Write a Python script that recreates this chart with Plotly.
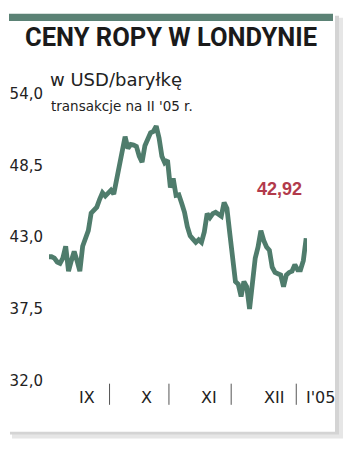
import pandas as pd
import plotly.graph_objects as go

# ---- data ----
dates = pd.bdate_range("2004-09-01", "2005-01-06")
prices = [
    41.5, 41.5, 41.4, 41.1, 41.0, 41.4, 42.3, 40.4, 41.2, 41.9,
    41.2, 40.4, 42.3, 42.85, 43.5, 44.85, 45.1, 45.3, 45.9, 46.4,
    46.15, 46.45, 46.6, 46.3, 47.4, 48.5, 49.6, 50.7, 49.8, 50.1,
    50.05, 49.95, 49.2, 48.75, 50.0, 50.6, 51.0, 51.1, 51.5, 50.6,
    49.2, 48.7, 48.9, 46.8, 47.5, 46.2, 46.25, 45.6, 44.9, 43.8,
    43.1, 42.85, 42.6, 42.8, 42.6, 43.4, 44.8, 44.5, 44.8, 44.9,
    44.8, 44.6, 45.65, 45.2, 43.3, 41.0, 39.6, 39.4, 38.45, 39.6,
    39.2, 37.5, 39.5, 41.4, 42.25, 43.5, 42.75, 42.25, 42.0, 40.7,
    40.3, 40.2, 40.1, 39.2, 40.1, 40.3, 40.4, 40.9, 40.5, 40.5,
    41.2, 42.92,
]
y_ticks = [32.0, 37.5, 43.0, 48.5, 54.0]
month_labels = ["IX", "X", "XI", "XII", "I'05"]
title_text = "CENY ROPY W LONDYNIE"
unit_text = "w USD/baryłkę"
note_text = "transakcje na II '05 r."
last_label = "42,92"

# ---- layout constants ----
W, H = 350, 458
LINE_COLOR = "#4f7c6c"
BAR_COLOR = "#5b8275"
RED = "#b23a4b"
TXT = "#222222"

x_idx = list(range(len(prices)))
seps = [i - 0.5 for i in range(1, len(dates)) if dates[i].month != dates[i - 1].month]

def px_x(p):
    return p / W

def px_y(p):
    return 1 - p / H

fig = go.Figure()
fig.add_trace(go.Scatter(
    x=x_idx, y=prices, mode="lines",
    line=dict(color=LINE_COLOR, width=4.8),
    hoverinfo="skip", showlegend=False,
))

shapes = []
# card shadow
shapes.append(dict(type="rect", xref="paper", yref="paper", layer="below",
                   x0=px_x(12), x1=px_x(343), y0=px_y(447), y1=px_y(9),
                   fillcolor="#e6e6e6", line=dict(width=0)))
shapes.append(dict(type="rect", xref="paper", yref="paper", layer="below",
                   x0=px_x(10), x1=px_x(339), y0=px_y(443), y1=px_y(7),
                   fillcolor="#d4d4d4", line=dict(width=0)))
# card
shapes.append(dict(type="rect", xref="paper", yref="paper", layer="below",
                   x0=px_x(8), x1=px_x(335), y0=px_y(440), y1=px_y(5),
                   fillcolor="white", line=dict(width=0)))
# top bar
shapes.append(dict(type="rect", xref="paper", yref="paper", layer="below",
                   x0=px_x(9), x1=px_x(333), y0=px_y(12.5), y1=px_y(5),
                   fillcolor=BAR_COLOR, line=dict(width=0)))
# month separators
for s in seps:
    shapes.append(dict(type="line", xref="x", yref="paper",
                       x0=s, x1=s, y0=px_y(390), y1=px_y(412),
                       line=dict(color="#555555", width=1)))

annotations = []
annotations.append(dict(text=f"<b>{title_text}</b>", xref="paper", yref="paper",
                        x=px_x(171), y=px_y(29), xanchor="center", yanchor="middle",
                        showarrow=False,
                        font=dict(family="Roboto, Liberation Sans, sans-serif",
                                  size=25.5, color="#1a1a1a")))
annotations.append(dict(text=unit_text, xref="paper", yref="paper",
                        x=px_x(48), y=px_y(73), xanchor="left", yanchor="middle",
                        showarrow=False,
                        font=dict(family="DejaVu Sans", size=18, color=TXT)))
annotations.append(dict(text=note_text, xref="paper", yref="paper",
                        x=px_x(49), y=px_y(101), xanchor="left", yanchor="middle",
                        showarrow=False,
                        font=dict(family="DejaVu Sans", size=13.5, color=TXT)))
annotations.append(dict(text=f"<b>{last_label}</b>", xref="paper", yref="paper",
                        x=px_x(304), y=px_y(187), xanchor="right", yanchor="middle",
                        showarrow=False,
                        font=dict(family="Liberation Sans, Arial, sans-serif", size=18, color=RED)))
# month labels
ends = seps
for k, lab in enumerate(month_labels):
    if k < len(ends):
        annotations.append(dict(text=lab, xref="x", yref="paper",
                                x=ends[k] - 7.8, y=px_y(404), xanchor="center", yanchor="middle",
                                showarrow=False,
                                font=dict(family="DejaVu Sans", size=16, color=TXT)))
    else:
        annotations.append(dict(text=lab, xref="x", yref="paper",
                                x=ends[-1] + 2.6, y=px_y(404), xanchor="left", yanchor="middle",
                                showarrow=False,
                                font=dict(family="DejaVu Sans", size=16, color=TXT)))

fig.update_layout(
    width=W, height=H,
    margin=dict(l=0, r=0, t=0, b=0),
    paper_bgcolor="white",
    plot_bgcolor="#eeeeee",
    separators=",.",
    showlegend=False,
    shapes=shapes,
    annotations=annotations,
    xaxis=dict(domain=[px_x(49), px_x(307)], range=[0.1, 91.3],
               showgrid=False, zeroline=False, showticklabels=False,
               ticks="", showline=False, fixedrange=True),
    yaxis=dict(domain=[px_y(387), px_y(88)], range=[32, 54],
               tickvals=y_ticks, tickformat=".1f",
               showgrid=True, gridcolor="white", gridwidth=1.5,
               zeroline=False, showline=False, ticks="",
               ticklabelstandoff=5,
               tickfont=dict(family="DejaVu Sans", size=15, color=TXT),
               fixedrange=True),
)

fig.write_html("out.html", config={"displayModeBar": False})
